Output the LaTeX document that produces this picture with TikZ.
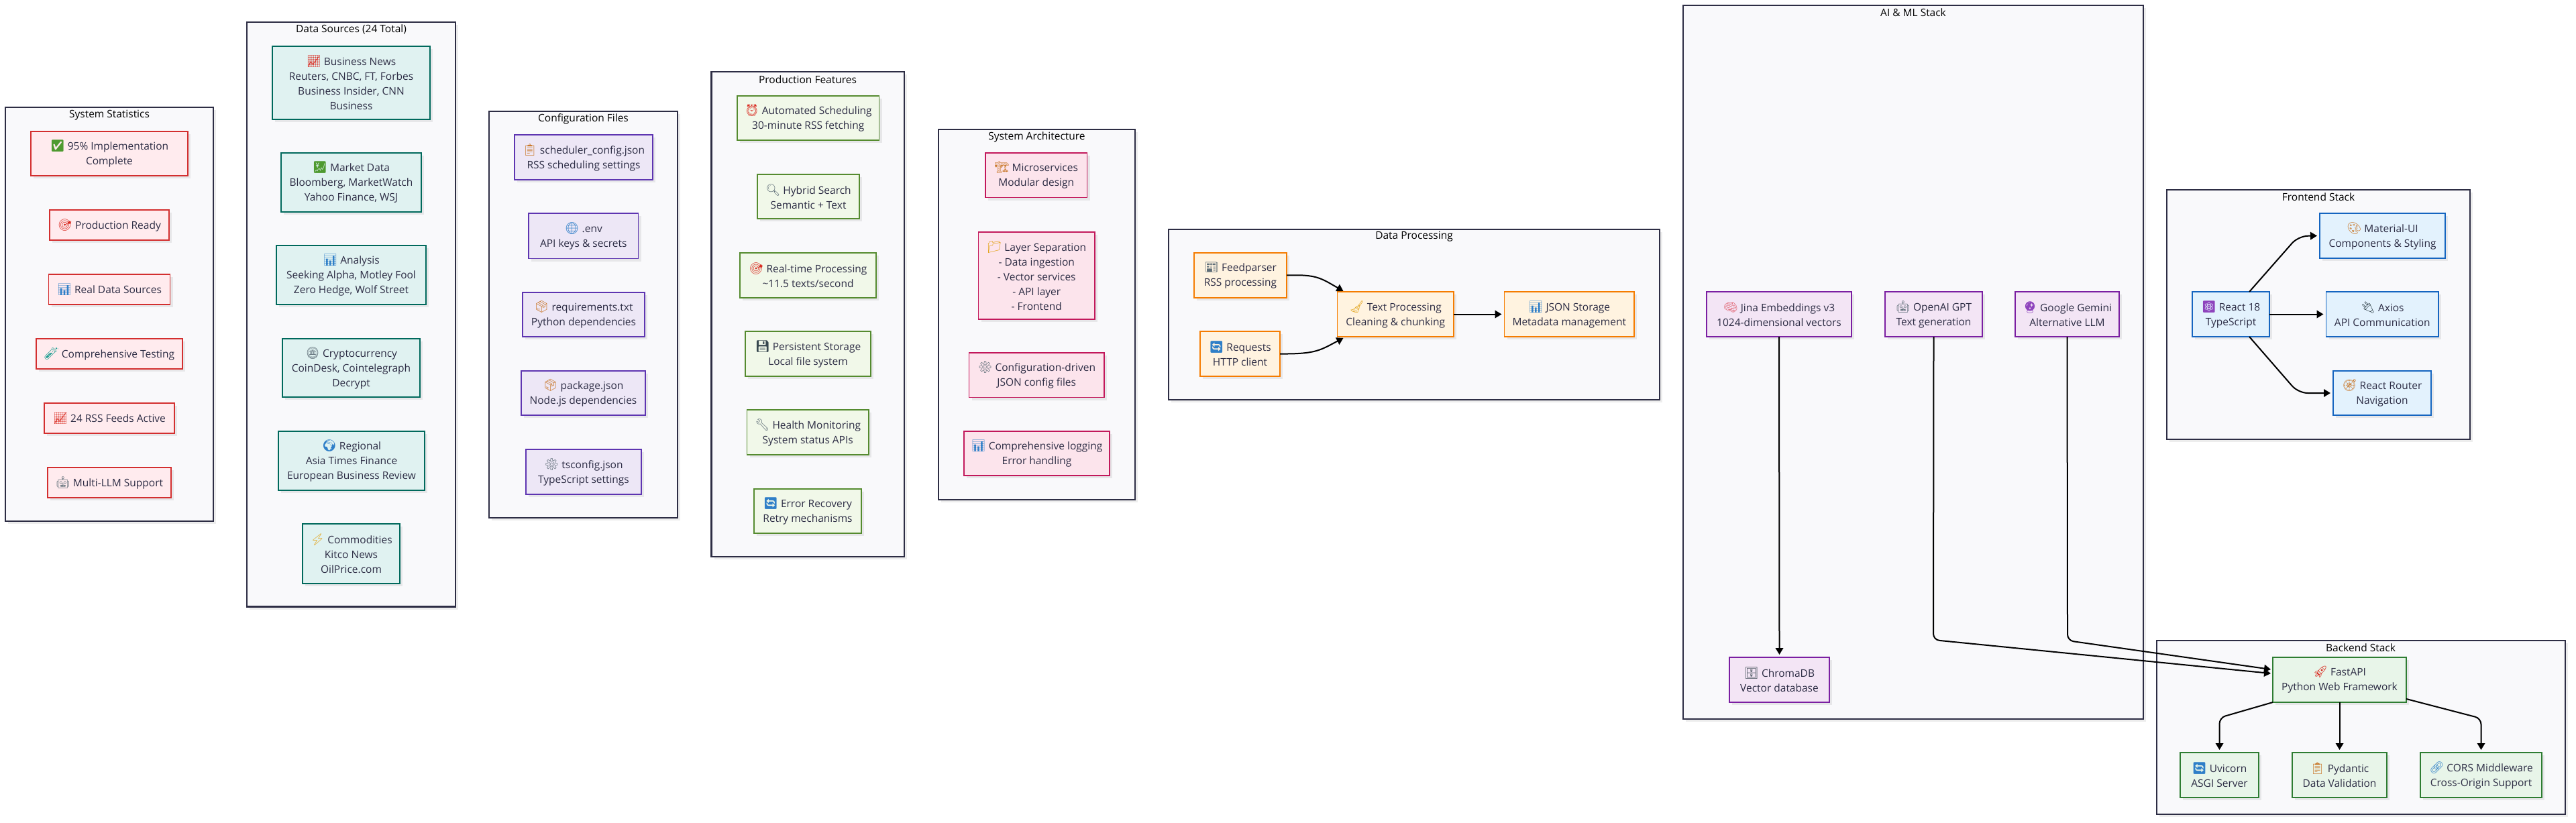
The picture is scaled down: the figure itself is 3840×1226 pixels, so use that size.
\documentclass[tikz,border=0pt]{standalone}
\usepackage{fontspec}
\setmainfont{Open Sans}
\newfontfamily\emojifont[Scale=1.12]{Noto Emoji}
\usetikzlibrary{arrows.meta,calc,shadows}
\definecolor{ink}{HTML}{2C2C44}
\definecolor{groupline}{HTML}{2D2D44}
\definecolor{groupfill}{HTML}{F9F9FB}
\newcommand{\emo}[2]{{\emojifont\color{#1}#2}}
\newcommand{\bx}[7]{%
  \pgfmathsetmacro{\boxw}{#5-#3}%
  \pgfmathsetmacro{\boxh}{#6-#4}%
  \node[#2,minimum width=\boxw pt,minimum height=\boxh pt] (#1) at ({(#3+#5)/2},{(#4+#6)/2}) {#7};}
\tikzset{
  softshadow/.style={drop shadow={shadow xshift=4pt,shadow yshift=-4pt,fill=black,opacity=.07}},
  basebox/.style={rectangle,inner sep=0pt,outer sep=0pt,align=center,line width=1.9pt,text=ink,
    font=\fontsize{15.5}{22}\selectfont,softshadow},
  groupbox/.style={basebox,draw=groupline,fill=groupfill,line width=2.4pt},
  grouptitle/.style={inner sep=0pt,text=black,font=\fontsize{15.5}{22}\selectfont},
  statbox/.style={basebox,draw=statline,fill=statfill},
  databox/.style={basebox,draw=dataline,fill=datafill},
  confbox/.style={basebox,draw=confline,fill=conffill},
  prodbox/.style={basebox,draw=prodline,fill=prodfill},
  archbox/.style={basebox,draw=archline,fill=archfill},
  procbox/.style={basebox,draw=procline,fill=procfill},
  aibox/.style={basebox,draw=ailine,fill=aifill},
  frontbox/.style={basebox,draw=frontline,fill=frontfill},
  backbox/.style={basebox,draw=backline,fill=backfill},
  conn/.style={draw=black,line width=2pt,-{Triangle[length=10pt,width=11.5pt]}},
}
\definecolor{statline}{HTML}{D32F2F}\definecolor{statfill}{HTML}{FFEBEE}
\definecolor{dataline}{HTML}{00695C}\definecolor{datafill}{HTML}{E0F2F1}
\definecolor{confline}{HTML}{5E35B1}\definecolor{conffill}{HTML}{EDE7F6}
\definecolor{prodline}{HTML}{558B2F}\definecolor{prodfill}{HTML}{F1F8E9}
\definecolor{archline}{HTML}{C2185B}\definecolor{archfill}{HTML}{FCE4EC}
\definecolor{procline}{HTML}{F57C00}\definecolor{procfill}{HTML}{FFF3E0}
\definecolor{ailine}{HTML}{7B1FA2}\definecolor{aifill}{HTML}{F3E5F5}
\definecolor{frontline}{HTML}{1565C0}\definecolor{frontfill}{HTML}{E3F2FD}
\definecolor{backline}{HTML}{2E7D32}\definecolor{backfill}{HTML}{E8F5E9}
\definecolor{eGreen}{HTML}{4E9A2F}\definecolor{eRed}{HTML}{D92A20}\definecolor{eBlue}{HTML}{2F7FC8}
\definecolor{eGray}{HTML}{5F6E78}\definecolor{eOrange}{HTML}{C9782A}\definecolor{eYellow}{HTML}{E3A51E}
\definecolor{eTeal}{HTML}{1F9F92}\definecolor{ePurple}{HTML}{8E44BD}\definecolor{ePink}{HTML}{E2707F}
\definecolor{eDark}{HTML}{37474F}
\begin{document}
\begin{tikzpicture}[x=1pt,y=-1pt]
\useasboundingbox (0,0) rectangle (3840,1226);
\fill[white] (0,0) rectangle (3840,1226);
% groups
\bx{gstats}{groupbox}{8}{160}{318}{777}{}
\node[grouptitle] (tstats) at (163,172) {System Statistics};
\bx{gdata}{groupbox}{368}{33}{679}{904.5}{}
\node[grouptitle] (tdata) at (523.5,44) {Data Sources (24 Total)};
\bx{gconf}{groupbox}{729}{166}{1010}{772}{}
\node[grouptitle] (tconf) at (869.5,177) {Configuration Files};
\bx{gprod}{groupbox}{1060.5}{107}{1348}{830}{}
\node[grouptitle] (tprod) at (1204,119) {Production Features};
\bx{garch}{groupbox}{1399}{193}{1692}{745}{}
\node[grouptitle] (tarch) at (1545.5,204) {System Architecture};
\bx{gproc}{groupbox}{1742}{342}{2474}{596}{}
\node[grouptitle] (tproc) at (2108,353) {Data Processing};
\bx{gai}{groupbox}{2509}{8}{3195}{1072}{}
\node[grouptitle] (tai) at (2852,19) {AI \& ML Stack};
\bx{gfront}{groupbox}{3230}{283}{3682}{655}{}
\node[grouptitle] (tfront) at (3456,294) {Frontend Stack};
\bx{gback}{groupbox}{3215}{955}{3824}{1214}{}
\node[grouptitle] (tback) at (3519,966) {Backend Stack};
% statistics
\bx{s1}{statbox}{46}{196}{280}{262}{\emo{eGreen}{✅} 95\% Implementation\\Complete}
\bx{s2}{statbox}{74}{313}{252}{358}{\emo{eRed}{🎯} Production Ready}
\bx{s3}{statbox}{72.5}{409}{253.5}{454}{\emo{eBlue}{📊} Real Data Sources}
\bx{s4}{statbox}{54}{505}{272}{550}{\emo{eTeal}{🧪} Comprehensive Testing}
\bx{s5}{statbox}{66}{601}{260}{646}{\emo{eRed}{📈} 24 RSS Feeds Active}
\bx{s6}{statbox}{71}{697}{255}{742}{\emo{eGray}{🤖} Multi-LLM Support}
% data sources
\bx{d1}{databox}{406}{69}{641}{178}{\emo{eRed}{📈} Business News\\Reuters, CNBC, FT, Forbes\\Business Insider, CNN\\Business}
\bx{d2}{databox}{419}{228}{628}{316}{\emo{eGreen}{💹} Market Data\\Bloomberg, MarketWatch\\Yahoo Finance, WSJ}
\bx{d3}{databox}{412}{366}{635}{454}{\emo{eBlue}{📊} Analysis\\Seeking Alpha, Motley Fool\\Zero Hedge, Wolf Street}
\bx{d4}{databox}{421}{505}{626}{592}{\emo{eGray}{🪙} Cryptocurrency\\CoinDesk, Cointelegraph\\Decrypt}
\bx{d5}{databox}{415}{643}{633}{731}{\emo{eBlue}{🌍} Regional\\Asia Times Finance\\European Business Review}
\bx{d6}{databox}{451}{781}{596}{870}{\emo{eYellow}{⚡} Commodities\\Kitco News\\OilPrice.com}
% configuration
\bx{c1}{confbox}{767}{201}{973}{268}{\emo{eOrange}{📋} scheduler\_config.json\\RSS scheduling settings}
\bx{c2}{confbox}{788}{318}{951.5}{385.5}{\emo{eBlue}{🌐} .env\\API keys \& secrets}
\bx{c3}{confbox}{779}{436}{961}{502}{\emo{eOrange}{📦} requirements.txt\\Python dependencies}
\bx{c4}{confbox}{777}{553}{962}{619}{\emo{eOrange}{📦} package.json\\Node.js dependencies}
\bx{c5}{confbox}{784}{670}{956}{737}{\emo{eGray}{⚙} tsconfig.json\\TypeScript settings}
% production
\bx{p1}{prodbox}{1099}{143}{1310.5}{209}{\emo{eRed}{⏰} Automated Scheduling\\30-minute RSS fetching}
\bx{p2}{prodbox}{1129}{260}{1281}{326}{\emo{eGray}{🔍} Hybrid Search\\Semantic + Text}
\bx{p3}{prodbox}{1103}{377}{1306}{444}{\emo{eRed}{🎯} Real-time Processing\\\textasciitilde 11.5 texts/second}
\bx{p4}{prodbox}{1111}{494}{1298}{561}{\emo{eDark}{💾} Persistent Storage\\Local file system}
\bx{p5}{prodbox}{1113.5}{611}{1295}{678}{\emo{eGray}{🔧} Health Monitoring\\System status APIs}
\bx{p6}{prodbox}{1124}{729}{1284}{795}{\emo{eBlue}{🔄} Error Recovery\\Retry mechanisms}
% architecture
\bx{a1}{archbox}{1469}{228}{1620.5}{294.5}{\emo{eOrange}{🏗} Microservices\\Modular design}
\bx{a2}{archbox}{1458.5}{346}{1632}{475.6}{\emo{eYellow}{📁} Layer Separation\\- Data ingestion\\- Vector services\\- API layer\\- Frontend}
\bx{a3}{archbox}{1444.5}{526}{1646}{592.5}{\emo{eGray}{⚙} Configuration-driven\\JSON config files}
\bx{a4}{archbox}{1437}{643}{1654}{709}{\emo{eBlue}{📊} Comprehensive logging\\Error handling}
% processing
\bx{feed}{procbox}{1780}{377}{1918}{444}{\emo{eGray}{📰} Feedparser\\RSS processing}
\bx{reqs}{procbox}{1789}{494}{1908}{561}{\emo{eBlue}{🔄} Requests\\HTTP client}
\bx{textp}{procbox}{1993.5}{435}{2167}{502}{\emo{eYellow}{🧹} Text Processing\\Cleaning \& chunking}
\bx{jsons}{procbox}{2242.5}{435}{2436}{502}{\emo{eBlue}{📊} JSON Storage\\Metadata management}
% AI
\bx{jina}{aibox}{2544}{435}{2760}{502}{\emo{ePink}{🧠} Jina Embeddings v3\\1024-dimensional vectors}
\bx{openai}{aibox}{2810}{435}{2955}{502}{\emo{eGray}{🤖} OpenAI GPT\\Text generation}
\bx{gemini}{aibox}{3004}{435}{3159}{502}{\emo{ePurple}{🔮} Google Gemini\\Alternative LLM}
\bx{chroma}{aibox}{2578}{980}{2727}{1047}{\emo{eDark}{🗄} ChromaDB\\Vector database}
% frontend
\bx{react}{frontbox}{3268}{435}{3383}{502}{\emo{ePurple}{⚛} React 18\\TypeScript}
\bx{mui}{frontbox}{3458}{318}{3645}{385}{\emo{eOrange}{🎨} Material-UI\\Components \& Styling}
\bx{axios}{frontbox}{3467.5}{435}{3635}{502}{\emo{eDark}{🔌} Axios\\API Communication}
\bx{router}{frontbox}{3478}{553}{3624}{619}{\emo{eOrange}{🧭} React Router\\Navigation}
% backend
\bx{fastapi}{backbox}{3388}{980}{3587}{1047}{\emo{eRed}{🚀} FastAPI\\Python Web Framework}
\bx{uvicorn}{backbox}{3250}{1122}{3367}{1189}{\emo{eBlue}{🔄} Uvicorn\\ASGI Server}
\bx{pydantic}{backbox}{3417}{1122}{3558}{1189}{\emo{eOrange}{📋} Pydantic\\Data Validation}
\bx{cors}{backbox}{3608}{1122}{3789}{1189}{\emo{eBlue}{🔗} CORS Middleware\\Cross-Origin Support}
% connectors
\draw[conn] (feed.east) .. controls (1962,409) and (1968,414) .. ($(textp.north west)+(9,-1)$);
\draw[conn] (reqs.east) .. controls (1962,528) and (1968,522) .. ($(textp.south west)+(9,2)$);
\draw[conn] (textp.east) -- ($(jsons.west)+(-4,0)$);
\draw[conn] (jina.south) -- ($(chroma.north)+(0,-4)$);
\coordinate (vo) at (2882,954);
\coordinate (vg) at (3082,955);
\draw[conn,rounded corners=9pt] (openai.south) -- (vo) -- ($(fastapi.west)+(-3,-9.5)$);
\draw[conn,rounded corners=9pt] (gemini.south) -- (vg) -- ($(fastapi.west)+(-3,-15.5)$);
\coordinate (vm) at (3426,352);
\coordinate (vr) at (3426,586);
\draw[conn,rounded corners=14pt] ($(react.north)+(27.5,0)$) -- (vm) -- ($(mui.west)+(-4,0)$);
\draw[conn] (react.east) -- ($(axios.west)+(-4,0)$);
\draw[conn,rounded corners=14pt] ($(react.south)+(27.5,0)$) -- (vr) -- ($(router.west)+(-4,0)$);
\coordinate (vu) at (3308.5,1070);
\coordinate (vc) at (3698.5,1071);
\draw[conn,rounded corners=9pt] (fastapi.south west) -- (vu) -- ($(uvicorn.north)+(0,-4)$);
\draw[conn] (fastapi.south) -- ($(pydantic.north)+(0,-4)$);
\draw[conn,rounded corners=9pt] ($(fastapi.east)+(0,28.5)$) -- (vc) -- ($(cors.north)+(0,-4)$);
\end{tikzpicture}
\end{document}
